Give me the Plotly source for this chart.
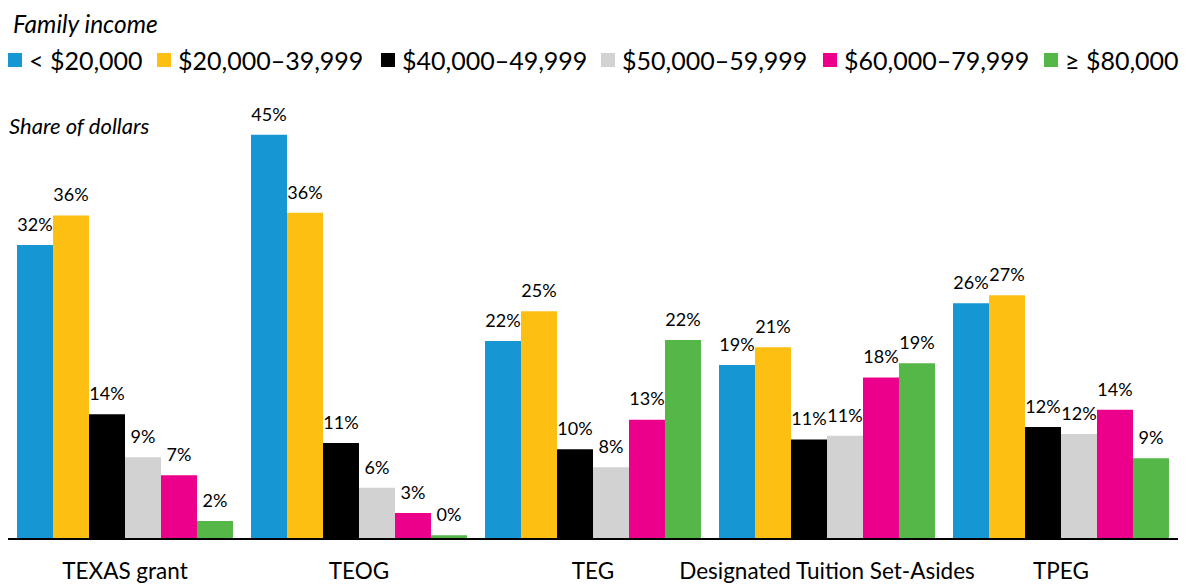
import plotly.graph_objects as go

categories = ["TEXAS grant", "TEOG", "TEG", "Designated Tuition Set-Asides", "TPEG"]
series_names = ["< $20,000", "$20,000–39,999", "$40,000–49,999",
                "$50,000–59,999", "$60,000–79,999", "≥ $80,000"]
colors = ["#1696d2", "#fdbf11", "#000000", "#d2d2d2", "#ec008b", "#55b748"]

# bar heights (share of dollars, %)
lt20k = [32.7, 45.0, 22.0, 19.3, 26.2]
k20_40 = [36.0, 36.3, 25.3, 21.3, 27.1]
k40_50 = [13.8, 10.6, 9.9, 11.0, 12.4]
k50_60 = [9.0, 5.6, 7.9, 11.4, 11.6]
k60_80 = [7.0, 2.8, 13.2, 17.9, 14.3]
ge80k = [1.9, 0.3, 22.1, 19.5, 8.9]
series_values = [lt20k, k20_40, k40_50, k50_60, k60_80, ge80k]

# printed labels
lt20k_lbl = ["32%", "45%", "22%", "19%", "26%"]
k20_40_lbl = ["36%", "36%", "25%", "21%", "27%"]
k40_50_lbl = ["14%", "11%", "10%", "11%", "12%"]
k50_60_lbl = ["9%", "6%", "8%", "11%", "12%"]
k60_80_lbl = ["7%", "3%", "13%", "18%", "14%"]
ge80k_lbl = ["2%", "0%", "22%", "19%", "9%"]
series_labels = [lt20k_lbl, k20_40_lbl, k40_50_lbl, k50_60_lbl, k60_80_lbl, ge80k_lbl]

FONT = "Lato"
# the page body has an 8px margin, so the figure is 8px smaller than the window
W, H = 1179, 576
ML, MR, MT, MB = 0, 9, 82, 46
PW, PH = W - ML - MR, H - MT - MB

# legend layout (figure pixel x of each colour square's left edge)
LEGEND_SQ_X = [0, 149, 373, 593, 815, 1036]
LEGEND_Y = 52
SQ = 14


def px_x(px):
    return (px - ML) / PW


def px_y(py):
    return (H - MB - py) / PH


fig = go.Figure()
for i, (name, vals, col) in enumerate(zip(series_names, series_values, colors)):
    fig.add_trace(go.Bar(
        x=categories, y=vals, name=name, marker=dict(color=col, line=dict(width=0)),
        offsetgroup=str(i), hoverinfo="skip", showlegend=False,
    ))
for i, (name, vals, lbls) in enumerate(zip(series_names, series_values, series_labels)):
    fig.add_trace(go.Scatter(
        x=categories, y=vals, mode="markers+text", offsetgroup=str(i),
        marker=dict(size=14, color="rgba(0,0,0,0)"),
        text=lbls, textposition="top center",
        textfont=dict(family=FONT, size=18, color="#000000"),
        showlegend=False, hoverinfo="skip", cliponaxis=False,
    ))

shapes = []
annotations = [
    dict(text="<i>Family income</i>", xref="paper", yref="paper",
         x=px_x(4), y=px_y(0), xanchor="left", yanchor="top", borderpad=0,
         showarrow=False, font=dict(family=FONT, size=24.5)),
    dict(text="<i>Share of dollars</i>", xref="paper", yref="paper",
         x=px_x(-1), y=px_y(117), xanchor="left", yanchor="middle",
         showarrow=False, font=dict(family=FONT, size=22)),
]
for name, col, sx in zip(series_names, colors, LEGEND_SQ_X):
    shapes.append(dict(type="rect", xref="paper", yref="paper",
                       x0=px_x(sx), x1=px_x(sx + SQ),
                       y0=px_y(LEGEND_Y - SQ / 2), y1=px_y(LEGEND_Y + SQ / 2),
                       fillcolor=col, line=dict(width=0)))
    annotations.append(dict(text=name, xref="paper", yref="paper",
                            x=px_x(sx + SQ + 5), y=px_y(LEGEND_Y),
                            xanchor="left", yanchor="middle", showarrow=False,
                            font=dict(family=FONT, size=25, color="#000000")))

fig.update_layout(
    width=W, height=H,
    margin=dict(l=ML, r=MR, t=MT, b=MB, autoexpand=False),
    paper_bgcolor="white", plot_bgcolor="white",
    barmode="group", bargap=0.077, bargroupgap=0,
    scattermode="group", scattergap=0.077,
    font=dict(family=FONT, color="#000000"),
    showlegend=False,
    xaxis=dict(showline=True, linecolor="#000000", linewidth=2, ticks="",
               ticklabelstandoff=12,
               tickfont=dict(family=FONT, size=22.5), showgrid=False, zeroline=False),
    yaxis=dict(range=[0, 50], visible=False, showgrid=False, zeroline=False),
    shapes=shapes,
    annotations=annotations,
)
fig.write_html("out.html")
